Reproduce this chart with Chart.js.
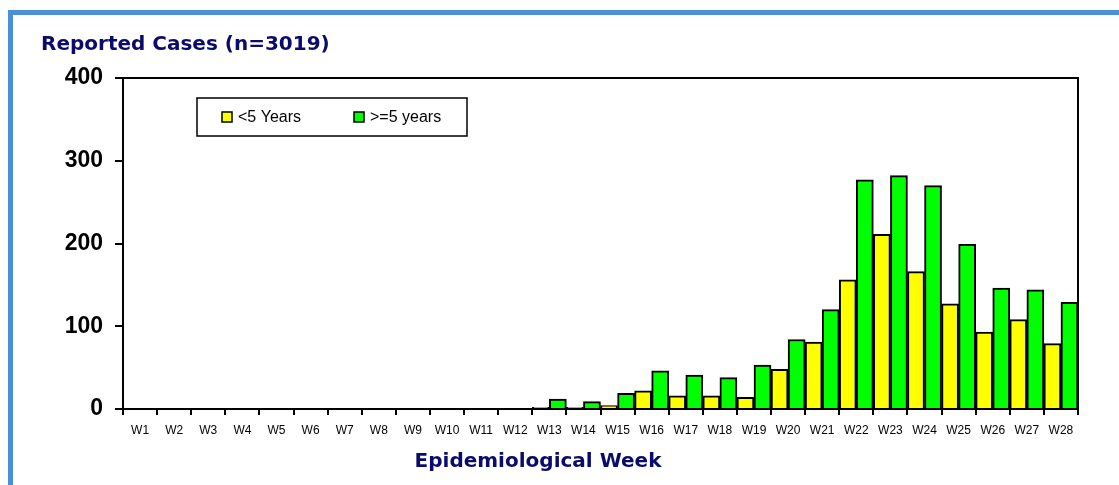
<!DOCTYPE html>
<html>
<head>
<meta charset="utf-8">
<script src="https://cdn.jsdelivr.net/npm/chart.js@4.4.1/dist/chart.umd.min.js"></script>
<style>
  html, body { margin: 0; padding: 0; background: #ffffff; }
  #wrap { position: relative; width: 1119px; height: 485px; }
</style>
</head>
<body>
<div id="wrap"><canvas id="c" width="1119" height="485"></canvas></div>
<script>
const weeks = ["W1","W2","W3","W4","W5","W6","W7","W8","W9","W10","W11","W12","W13","W14","W15","W16","W17","W18","W19","W20","W21","W22","W23","W24","W25","W26","W27","W28"];
const under5 = [0,0,0,0,0,0,0,0,0,0,0,0,2,2,4,22,16,16,14,48,81,156,211,166,127,93,108,79];
const over5  = [0,0,0,0,0,0,0,0,0,0,0,0,12,9,19,46,41,38,53,84,120,277,282,270,199,146,144,129];
const yTicks = [0,100,200,300,400];
const chartTitle = "Reported Cases (n=3019)";
const xTitle = "Epidemiological Week";

const decor = {
  id: 'decor',
  beforeDraw(chart) {
    const ctx = chart.ctx;
    ctx.save();
    ctx.fillStyle = '#ffffff';
    ctx.fillRect(0, 0, chart.width, chart.height);
    ctx.fillStyle = '#4a8fdc';
    ctx.fillRect(8, 10, chart.width - 8, 5);
    ctx.fillRect(8, 10, 5, chart.height - 10);
    ctx.restore();
  },
  afterDraw(chart) {
    const ctx = chart.ctx;
    const a = chart.chartArea;
    ctx.save();
    ctx.strokeStyle = '#000';
    ctx.lineWidth = 2;
    ctx.beginPath();
    ctx.moveTo(a.left, a.top);
    ctx.lineTo(a.right, a.top);
    ctx.lineTo(a.right, a.bottom);
    ctx.stroke();
    ctx.fillStyle = '#0b0b6b';
    ctx.font = 'bold 20px "DejaVu Sans"';
    ctx.textBaseline = 'alphabetic';
    ctx.textAlign = 'left';
    ctx.fillText(chartTitle, 41, 50);
    ctx.textAlign = 'center';
    ctx.fillText(xTitle, 538, 467);
    const lx = 197, ly = 98, lw = 270, lh = 38;
    ctx.fillStyle = '#fff';
    ctx.fillRect(lx, ly, lw, lh);
    ctx.strokeStyle = '#000';
    ctx.lineWidth = 1.5;
    ctx.strokeRect(lx, ly, lw, lh);
    const items = chart.data.datasets;
    const xs = [222, 354];
    ctx.font = '16px "Liberation Sans"';
    ctx.textAlign = 'left';
    ctx.textBaseline = 'middle';
    items.forEach((ds, i) => {
      ctx.fillStyle = ds.backgroundColor;
      ctx.fillRect(xs[i], 112, 10, 10);
      ctx.lineWidth = 1.5;
      ctx.strokeStyle = '#000';
      ctx.strokeRect(xs[i], 112, 10, 10);
      ctx.fillStyle = '#000';
      ctx.fillText(ds.label, xs[i] + 16, 117.5);
    });
    ctx.restore();
  }
};

new Chart(document.getElementById('c'), {
  type: 'bar',
  data: {
    labels: weeks,
    datasets: [
      { label: '<5 Years', data: under5, backgroundColor: '#ffff00', borderColor: '#000', borderWidth: 2 },
      { label: '>=5 years', data: over5, backgroundColor: '#00ff00', borderColor: '#000', borderWidth: 2 }
    ]
  },
  options: {
    responsive: false,
    animation: false,
    layout: { padding: { top: 78, right: 41, left: 0, bottom: 0 } },
    datasets: { bar: { categoryPercentage: 1.0, barPercentage: 1.0 } },
    plugins: { legend: { display: false }, tooltip: { enabled: false }, title: { display: false } },
    scales: {
      x: {
        afterFit: s => { s.height = 76; },
        grid: { offset: true, drawOnChartArea: false, drawTicks: true, tickLength: 6, color: '#000', lineWidth: 2 },
        border: { display: true, color: '#000', width: 2 },
        ticks: { color: '#000', font: { family: 'Liberation Sans', size: 12 }, padding: 8, maxRotation: 0, autoSkip: false }
      },
      y: {
        min: 0, max: 400,
        afterFit: s => { s.width = 123; },
        afterBuildTicks: s => { s.ticks = yTicks.map(v => ({ value: v })); },
        grid: { drawOnChartArea: false, drawTicks: true, tickLength: 8, color: '#000', lineWidth: 2 },
        border: { display: true, color: '#000', width: 2 },
        ticks: { color: '#000', font: { family: 'Liberation Sans', size: 23, weight: 'bold' }, padding: 12 }
      }
    }
  },
  plugins: [decor]
});
</script>
</body>
</html>
